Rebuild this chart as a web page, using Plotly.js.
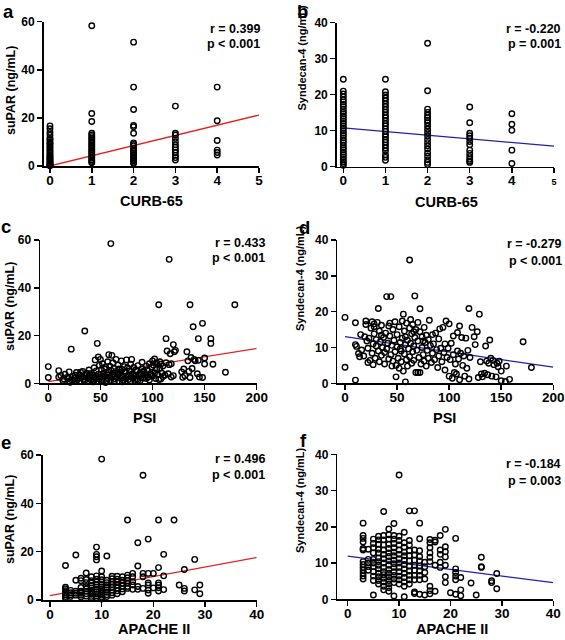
<!DOCTYPE html>
<html><head><meta charset="utf-8">
<script src="https://cdn.plot.ly/plotly-3.0.1.min.js"></script>
<style>html,body{margin:0;padding:0;background:#fff}#chart{width:565px;height:640px}</style>
</head><body><div id="chart"></div>
<script>
// ================= DATA =================
const curbLevels = [0, 1, 2, 3, 4];
const curbTicks = [0, 1, 2, 3, 4, 5];
const suparByCurb = [
  [16.7, 15.5, 14.0, 12.8, 11.5, 11.0, 10.1, 9.5, 9.0, 8.1, 7.5, 6.7, 6.0, 5.3, 4.7, 4.2, 3.6, 3.2, 2.7, 2.2, 1.8, 1.4, 1.0, 0.6, 0.3, 0.1],
  [58.3, 21.8, 18.5, 13.6, 12.9, 12.2, 11.5, 10.8, 10.1, 9.4, 8.7, 8.1, 7.4, 6.7, 6.0, 5.3, 4.6, 3.9, 3.2, 2.5, 1.9, 1.4],
  [51.5, 32.8, 23.5, 16.9, 16.3, 13.6, 9.6, 9.0, 8.4, 7.4, 6.7, 6.0, 5.3, 4.6, 3.9, 3.2, 2.6, 2.1, 1.5, 1.1],
  [24.9, 13.6, 12.9, 11.5, 10.1, 8.8, 7.8, 6.7, 5.6, 4.4, 3.5, 2.5],
  [32.8, 18.8, 10.6, 6.6, 5.6, 4.6]
];
const syndecanByCurb = [
  [24.3, 21.0, 20.2, 19.4, 18.6, 18.0, 17.3, 16.7, 16.0, 15.3, 14.7, 14.0, 13.3, 12.7, 12.0, 11.3, 10.7, 10.0, 9.3, 8.7, 8.0, 7.3, 6.7, 6.0, 5.3, 4.7, 4.0, 3.3, 2.7, 2.0, 1.4, 0.9, 0.4],
  [24.3, 20.8, 19.9, 19.1, 18.3, 17.5, 16.7, 15.9, 15.1, 14.3, 13.6, 12.8, 12.0, 11.3, 10.5, 9.8, 9.0, 8.3, 7.5, 6.8, 6.0, 5.2, 4.4, 3.3, 2.6, 1.8],
  [34.3, 21.1, 16.0, 15.1, 14.3, 13.6, 12.9, 12.2, 11.3, 10.4, 9.5, 8.6, 7.6, 6.7, 5.8, 4.9, 3.8, 2.9, 1.9, 1.2, 0.6],
  [16.6, 12.2, 9.3, 8.6, 7.9, 7.0, 6.1, 4.6, 3.7, 2.8, 2.1, 1.6, 1.2],
  [14.7, 11.8, 10.1, 4.6, 0.9]
];

const psiC = [
  0, 0, 10, 10, 12, 14, 15, 16, 18, 19,
  20, 20, 21, 22, 23, 24, 25, 26, 27, 28,
  29, 30, 30, 31, 32, 33, 34, 35, 35, 36,
  37, 38, 38, 39, 40, 40, 41, 42, 43, 43,
  44, 45, 45, 46, 46, 47, 47, 48, 48, 49,
  49, 50, 50, 51, 51, 52, 52, 53, 53, 54,
  54, 55, 55, 56, 56, 57, 57, 58, 58, 59,
  60, 60, 60, 61, 61, 62, 62, 63, 64, 64,
  65, 65, 66, 67, 67, 68, 68, 69, 70, 70,
  71, 72, 72, 73, 74, 75, 75, 76, 77, 77,
  78, 79, 80, 80, 81, 82, 83, 84, 85, 85,
  86, 87, 88, 88, 89, 90, 90, 91, 92, 93,
  94, 95, 96, 97, 98, 99, 100, 100, 101, 102,
  103, 104, 104, 105, 106, 106, 107, 107, 108, 109,
  110, 110, 112, 113, 113, 114, 115, 116, 116, 117,
  118, 118, 120, 120, 121, 122, 128, 129, 130, 131,
  133, 134, 135, 136, 136, 137, 138, 139, 140, 141,
  143, 144, 144, 145, 148, 148, 150, 150, 156, 156,
  158, 170, 179, 26, 33, 39, 44, 57, 63, 66,
  71, 74, 76, 79, 82, 84, 86, 91, 94, 97,
  99, 102, 108
];
const suparPsi = [
  7.0, 2.4, 5.3, 2.6, 3.2, 1.2, 1.8, 3.8, 2.5, 2.0,
  1.0, 4.8, 0.4, 14.3, 1.2, 3.0, 2.0, 3.4, 4.5, 1.5,
  2.2, 3.6, 0.9, 4.6, 2.4, 5.0, 1.7, 21.9, 1.2, 3.2,
  4.2, 2.1, 0.8, 3.0, 4.0, 2.8, 1.4, 2.0, 3.5, 0.6,
  6.5, 2.3, 9.8, 5.2, 3.0, 16.7, 1.0, 11.0, 3.8, 7.5,
  1.8, 2.6, 10.0, 5.8, 0.8, 1.5, 8.2, 4.2, 2.6, 3.0,
  6.0, 0.3, 6.8, 2.2, 1.2, 9.0, 4.8, 3.4, 12.0, 7.2,
  58.5, 1.2, 5.5, 11.7, 2.8, 8.6, 4.0, 6.2, 1.8, 3.2,
  10.0, 5.0, 2.3, 7.6, 3.8, 0.9, 6.0, 4.4, 2.0, 9.4,
  5.8, 3.1, 1.3, 7.0, 4.6, 2.6, 9.8, 6.5, 1.6, 3.6,
  5.2, 8.0, 2.4, 10.0, 4.0, 6.6, 1.2, 3.2, 1.8, 5.0,
  7.4, 2.8, 4.2, 1.0, 3.6, 8.8, 6.0, 2.2, 4.8, 3.4,
  7.2, 5.6, 2.6, 8.2, 4.0, 6.8, 3.0, 9.4, 7.6, 10.2,
  2.0, 5.8, 8.6, 3.6, 32.9, 1.6, 6.4, 9.0, 8.0, 4.2,
  2.8, 7.2, 3.4, 18.7, 8.6, 13.5, 4.0, 51.9, 7.8, 12.4,
  2.6, 8.2, 16.2, 3.2, 13.2, 13.8, 4.8, 2.5, 6.0, 3.2,
  13.2, 9.4, 5.0, 32.9, 2.4, 10.8, 6.2, 23.7, 10.0, 9.4,
  4.0, 18.7, 9.6, 2.6, 25.1, 2.4, 10.6, 8.1, 18.7, 16.7,
  8.0, 4.6, 32.9, 1.0, 2.6, 5.6, 1.2, 2.0, 0.8, 4.4,
  0.6, 2.0, 3.0, 1.0, 3.4, 5.6, 1.2, 5.0, 2.0, 1.4,
  3.6, 4.4, 1.8
];

const psiD = [
  0, 0, 10, 10, 10, 11, 13, 14, 15, 16,
  18, 19, 20, 20, 21, 22, 22, 23, 24, 25,
  26, 26, 27, 27, 28, 28, 29, 30, 30, 31,
  32, 32, 33, 33, 34, 35, 35, 36, 37, 38,
  38, 39, 40, 40, 41, 42, 42, 43, 44, 44,
  45, 45, 46, 46, 47, 48, 48, 49, 49, 50,
  50, 51, 52, 52, 53, 54, 54, 55, 55, 56,
  56, 57, 57, 58, 58, 59, 59, 60, 60, 61,
  62, 62, 62, 63, 63, 64, 64, 65, 65, 66,
  66, 67, 67, 68, 68, 69, 70, 70, 70, 71,
  72, 72, 72, 73, 74, 74, 75, 76, 76, 77,
  78, 78, 79, 80, 80, 81, 82, 83, 84, 84,
  85, 86, 87, 88, 89, 90, 90, 91, 92, 93,
  94, 95, 96, 96, 97, 98, 99, 100, 100, 101,
  102, 103, 104, 104, 105, 106, 107, 108, 108, 109,
  110, 110, 111, 112, 113, 114, 115, 116, 117, 118,
  119, 119, 120, 122, 124, 125, 127, 128, 129, 130,
  131, 132, 134, 135, 136, 137, 138, 139, 140, 141,
  142, 143, 145, 146, 147, 148, 150, 150, 154, 155,
  158, 171, 179, 28, 35, 43, 53, 58, 66, 75
];
const syndecanPsi = [
  18.4, 4.5, 0.9, 16.9, 10.8, 10.3, 8.3, 7.4, 13.6, 9.3,
  7.6, 13.0, 16.4, 17.4, 11.8, 5.8, 9.8, 12.6, 6.4, 15.4,
  17.2, 8.4, 11.0, 5.2, 13.8, 15.8, 7.0, 10.4, 12.2, 17.0,
  20.9, 9.0, 6.0, 14.6, 11.6, 7.8, 16.2, 10.0, 12.8, 8.6,
  5.4, 14.0, 24.2, 9.6, 11.2, 6.8, 16.0, 13.2, 24.2, 8.0,
  4.8, 10.6, 15.0, 6.2, 12.0, 17.2, 8.8, 1.8, 5.0, 10.2,
  13.6, 7.0, 15.8, 4.2, 11.4, 9.0, 6.0, 12.6, 17.4, 19.3,
  3.4, 8.2, 14.6, 0.4, 10.8, 6.6, 16.8, 12.0, 4.8, 9.6,
  34.4, 15.4, 7.4, 17.8, 11.2, 5.6, 13.8, 8.8, 16.4, 10.4,
  6.4, 24.4, 12.8, 15.0, 3.0, 9.2, 3.0, 11.8, 17.0, 7.2,
  20.8, 3.0, 14.4, 5.4, 10.0, 13.0, 8.0, 15.6, 6.2, 11.4,
  13.4, 4.8, 9.2, 12.2, 7.0, 17.6, 10.6, 5.8, 13.6, 8.4,
  11.0, 6.6, 14.0, 9.4, 4.4, 12.4, 7.6, 15.2, 9.8, 6.0,
  15.6, 8.6, 3.7, 11.0, 17.4, 7.2, 9.8, 16.6, 2.0, 6.6,
  11.2, 1.4, 8.0, 13.2, 3.0, 5.4, 2.6, 9.0, 14.2, 6.8,
  1.0, 16.0, 8.4, 12.8, 5.0, 7.6, 2.0, 12.6, 4.2, 9.2,
  20.9, 1.2, 7.2, 15.6, 13.0, 10.8, 14.4, 1.6, 19.3, 6.0,
  2.6, 1.8, 2.8, 10.4, 6.2, 2.4, 5.6, 12.1, 7.0, 2.0,
  6.4, 5.2, 1.8, 5.6, 4.6, 6.2, 0.7, 3.4, 0.5, 4.8,
  1.1, 11.6, 4.4, 16.6, 13.4, 16.8, 9.6, 13.0, 14.4, 11.8
];

const apacheLevelsE = [3, 4, 5, 6, 7, 8, 9, 10, 11, 12, 13, 14, 15, 16, 17, 18, 19, 20, 21, 22, 24, 25, 26, 28, 29];
const suparByApache = [
  [14.3, 5.3, 4.6, 3.8, 3.0, 2.2, 1.4, 0.7],
  [4.0, 3.0, 2.2, 1.5],
  [18.6, 8.2, 3.6, 2.8, 2.0],
  [9.0, 8.0, 5.2, 3.6, 2.8, 2.0, 1.2],
  [11.2, 8.5, 7.2, 5.6, 4.6, 3.6, 2.6, 1.6],
  [9.6, 8.0, 7.0, 6.0, 5.0, 4.0, 3.2, 2.4, 1.5, 0.6],
  [21.9, 18.9, 17.9, 16.6, 10.0, 8.6, 7.4, 6.4, 5.4, 4.4, 3.4, 2.5, 1.7, 0.9],
  [58.3, 12.0, 9.6, 8.4, 7.4, 6.4, 5.4, 4.4, 3.6, 2.8, 2.0, 1.2, 0.4],
  [18.2, 8.2, 7.2, 6.2, 5.2, 4.2, 3.2, 2.2, 1.4],
  [9.8, 8.8, 7.6, 6.4, 5.2, 4.0, 3.0, 2.0],
  [9.8, 8.6, 7.4, 6.2, 5.0, 3.8, 2.6],
  [9.6, 8.2, 7.0, 5.8, 4.6, 3.4],
  [33.1, 10.3, 9.2, 8.0, 6.9, 5.6, 4.8],
  [11.0, 9.6, 7.6, 6.2, 4.4],
  [23.7, 14.1, 5.6, 4.4],
  [51.6, 11.0, 9.6, 4.8],
  [25.2, 11.0, 7.1, 6.2, 4.1, 2.8],
  [11.0, 5.0],
  [33.1, 13.4, 7.1, 6.2, 5.1, 3.7],
  [18.9, 10.0, 4.3],
  [33.1],
  [6.2],
  [12.6, 4.8, 3.7],
  [16.8, 4.2],
  [6.2, 2.6]
];

const apacheLevelsF = [3, 4, 5, 6, 7, 8, 9, 10, 11, 12, 13, 14, 15, 16, 17, 18, 19, 20, 21, 22, 24, 25, 26, 28, 29];
const syndecanByApache = [
  [21.0, 17.6, 16.8, 15.8, 14.0, 13.6, 10.4, 9.6, 8.8, 8.0, 7.2, 6.4, 5.6],
  [13.8, 11.0, 10.0, 9.0, 8.0],
  [16.6, 15.4, 14.2, 12.8, 11.0, 10.0, 9.0, 7.6, 6.4, 5.2, 1.2],
  [17.4, 16.4, 15.2, 13.8, 12.8, 11.4, 10.4, 9.4, 8.4, 7.2, 6.2, 5.2, 4.2],
  [24.2, 17.6, 16.4, 15.0, 13.6, 12.4, 11.2, 10.0, 8.8, 7.6, 6.8, 5.8, 4.8, 3.6, 2.6],
  [19.4, 17.8, 16.6, 15.2, 14.0, 12.8, 11.8, 10.6, 9.4, 8.2, 7.2, 6.2, 5.2, 4.2, 3.2, 2.2],
  [20.9, 17.6, 16.6, 15.4, 14.2, 13.0, 12.0, 10.8, 9.8, 8.8, 7.6, 6.6, 5.6, 4.6, 0.9],
  [34.3, 17.4, 16.2, 15.0, 13.6, 12.4, 11.2, 10.0, 8.8, 7.6, 6.4, 5.4, 4.2],
  [18.5, 15.6, 14.4, 13.0, 12.0, 10.8, 9.6, 8.4, 7.2, 6.0, 4.8, 3.6, 0.7],
  [24.4, 16.2, 15.0, 13.4, 12.0, 10.6, 9.2, 7.8, 6.6, 5.4, 4.2],
  [24.4, 13.6, 12.2, 10.8, 9.4, 8.0, 6.6, 5.4, 2.0, 1.6],
  [21.0, 16.7, 13.4, 11.8, 10.6, 9.2, 7.8, 6.6, 5.4, 1.4],
  [10.2, 9.0, 7.4, 5.6, 1.2],
  [16.5, 15.6, 14.2, 12.8, 11.6, 10.4, 3.6, 2.4, 1.5],
  [16.3, 15.8, 9.4, 2.2],
  [17.6, 13.6, 12.4, 10.2, 8.8],
  [19.3, 14.5, 13.1, 11.7, 9.4, 6.2, 4.6],
  [1.8],
  [16.8, 8.4, 7.4, 6.4, 5.4, 1.4],
  [6.0, 2.6, 1.0],
  [4.5],
  [1.2],
  [11.6, 8.8, 9.0],
  [5.1, 4.6],
  [7.1, 2.9]
];

const fitCurbX = [0, 5];
const fitSuparCurbY = [0.0, 21.2];
const fitSyndecanCurbY = [10.8, 5.7];
const fitPsiX = [0, 200];
const fitSuparPsiY = [0.7, 14.6];
const fitSyndecanPsiY = [13.0, 4.5];
const fitApacheX = [0, 40];
const fitSuparApacheY = [1.8, 17.6];
const fitSyndecanApacheY = [11.9, 4.6];

const panelLetters = ['a', 'b', 'c', 'd', 'e', 'f'];
const rTexts = ['r = 0.399', 'r = -0.220', 'r = 0.433', 'r = -0.279', 'r = 0.496', 'r = -0.184'];
const pTexts = ['p &lt; 0.001', 'p = 0.001', 'p &lt; 0.001', 'p &lt; 0.001', 'p &lt; 0.001', 'p = 0.003'];
const xTitles = ['CURB-65', 'CURB-65', 'PSI', 'PSI', 'APACHE II', 'APACHE II'];
const yTitles = ['suPAR (ng/mL)', 'Syndecan-4 (ng/mL)', 'suPAR (ng/mL)', 'Syndecan-4 (ng/mL)', 'suPAR (ng/mL)', 'Syndecan-4 (ng/mL)'];

// ================= BUILD =================
const W = 565, H = 640;
const fx = p => p / W;
const fy = p => 1 - p / H;
function expand(levels, groups) {
  const xs = [], ys = [];
  groups.forEach((g, i) => g.forEach(v => { xs.push(levels[i]); ys.push(v); }));
  return [xs, ys];
}
const [aX, aY] = expand(curbLevels, suparByCurb);
const [bX, bY] = expand(curbLevels, syndecanByCurb);
const [eX, eY] = expand(apacheLevelsE, suparByApache);
const [fX, fY] = expand(apacheLevelsF, syndecanByApache);

// pixel geometry of each panel: [left, right, top, bottom]
const geo = [
  [43.5, 259, 21.7, 166],
  [336.7, 554, 22.7, 166.7],
  [40, 256.7, 240, 383.3],
  [337.3, 553.3, 240, 383.3],
  [42.7, 256.7, 455, 600],
  [337.3, 553.3, 454.3, 599.3]
];
const xRanges = [[-0.155, 5], [-0.157, 5], [-7.97, 200], [-7.4, 200], [-1.41, 40], [-2.02, 40]];
const yRanges = [[0, 60], [0, 40], [0, 60], [0, 40], [0, 60], [0, 40]];
const yTickVals = [[0, 20, 40, 60], [0, 10, 20, 30, 40], [0, 20, 40, 60], [0, 10, 20, 30, 40], [0, 20, 40, 60], [0, 10, 20, 30, 40]];
const xTickVals = [curbTicks, curbTicks, [0, 50, 100, 150, 200], [0, 50, 100, 150, 200], [0, 10, 20, 30, 40], [0, 10, 20, 30, 40]];
const bold = v => '<b>' + v + '</b>';
const xTickText = xTickVals.map((vals, i) =>
  vals.map(v => (i === 1 && v === 5) ? '<b><span style="font-size:9px">5</span></b>' : bold(v)));
const yTickText = yTickVals.map(vals => vals.map(bold));

const FONT = 'Liberation Sans, Arial, Helvetica, sans-serif';
const marker = {symbol: 'circle-open', size: 5.5, color: '#000', line: {width: 1.4, color: '#000'}};
const RED = '#e3221f', BLUE = '#2020b0';

const scatterSets = [[aX, aY], [bX, bY], [psiC, suparPsi], [psiD, syndecanPsi], [eX, eY], [fX, fY]];
const fits = [[fitCurbX, fitSuparCurbY, RED], [fitCurbX, fitSyndecanCurbY, BLUE], [fitPsiX, fitSuparPsiY, RED],
              [fitPsiX, fitSyndecanPsiY, BLUE], [fitApacheX, fitSuparApacheY, RED], [fitApacheX, fitSyndecanApacheY, BLUE]];

const data = [];
const layout = {
  width: W, height: H, margin: {l: 0, r: 0, t: 0, b: 0},
  paper_bgcolor: '#fff', plot_bgcolor: 'rgba(0,0,0,0)',
  showlegend: false, font: {family: FONT, color: '#000'},
  annotations: []
};

for (let i = 0; i < 6; i++) {
  const n = i === 0 ? '' : String(i + 1);
  const xa = 'x' + n, ya = 'y' + n;
  data.push({type: 'scatter', mode: 'lines', x: fits[i][0], y: fits[i][1], xaxis: xa, yaxis: ya,
             line: {color: fits[i][2], width: 1.3}, hoverinfo: 'skip'});
  data.push({type: 'scatter', mode: 'markers', x: scatterSets[i][0], y: scatterSets[i][1], xaxis: xa, yaxis: ya,
             marker: marker, cliponaxis: false});
  const g = geo[i];
  const common = {showline: true, linecolor: '#000', linewidth: 1.5, ticks: 'outside', ticklen: 5, tickwidth: 1.5,
                  tickcolor: '#000', showgrid: false, zeroline: false, fixedrange: true, tickmode: 'array'};
  layout['xaxis' + n] = Object.assign({}, common, {
    domain: [fx(g[0]), fx(g[1])], anchor: ya, range: xRanges[i], tickvals: xTickVals[i], ticktext: xTickText[i],
    ticklabelstandoff: -4,
    tickfont: {family: FONT, size: 13.5, color: '#000'}
  });
  layout['yaxis' + n] = Object.assign({}, common, {
    domain: [fy(g[3]), fy(g[2])], anchor: xa, range: yRanges[i], tickvals: yTickVals[i], ticktext: yTickText[i],
    tickfont: {family: FONT, size: 12, color: '#000'}
  });
}

// text positions (pixels)
const letterPos = [[8, 11.5], [302, 11.5], [6, 226], [304, 228], [6, 442], [303, 440]];
const statPos = [[262, 29, 44], [563, 29, 44], [267, 243, 258], [564, 244, 261], [267, 459, 475], [563, 464, 481]];
const xTitlePos = [[151, 201], [446, 201.5], [144, 418], [444, 418], [154, 629], [452, 629]];
const yTitlePos = [[11, 91], [301, 58.5], [10, 307], [300, 279], [10, 520], [300, 501]];

for (let i = 0; i < 6; i++) {
  const A = layout.annotations;
  A.push({xref: 'paper', yref: 'paper', x: fx(letterPos[i][0]), y: fy(letterPos[i][1]), text: bold(panelLetters[i]),
          showarrow: false, xanchor: 'center', yanchor: 'middle', font: {family: FONT, size: 18.5, color: '#000'}});
  A.push({xref: 'paper', yref: 'paper', x: fx(statPos[i][0]), y: fy(statPos[i][1]), text: bold(rTexts[i]),
          showarrow: false, xanchor: 'right', yanchor: 'middle', font: {family: FONT, size: 12.5, color: '#000'}});
  A.push({xref: 'paper', yref: 'paper', x: fx(statPos[i][0]), y: fy(statPos[i][2]), text: bold(pTexts[i]),
          showarrow: false, xanchor: 'right', yanchor: 'middle', font: {family: FONT, size: 12.5, color: '#000'}});
  A.push({xref: 'paper', yref: 'paper', x: fx(xTitlePos[i][0]), y: fy(xTitlePos[i][1]), text: bold(xTitles[i]),
          showarrow: false, xanchor: 'center', yanchor: 'middle', font: {family: FONT, size: 14.5, color: '#000'}});
  const isSyn = i % 2 === 1;
  A.push({xref: 'paper', yref: 'paper', x: fx(yTitlePos[i][0]), y: fy(yTitlePos[i][1]), text: bold(yTitles[i]),
          showarrow: false, xanchor: 'center', yanchor: 'middle', textangle: -90,
          font: {family: isSyn ? 'Liberation Sans Narrow, ' + FONT : FONT, size: isSyn ? 11 : 12.5, color: '#000'}});
}

Plotly.newPlot('chart', data, layout, {displayModeBar: false, staticPlot: true});
</script></body></html>
